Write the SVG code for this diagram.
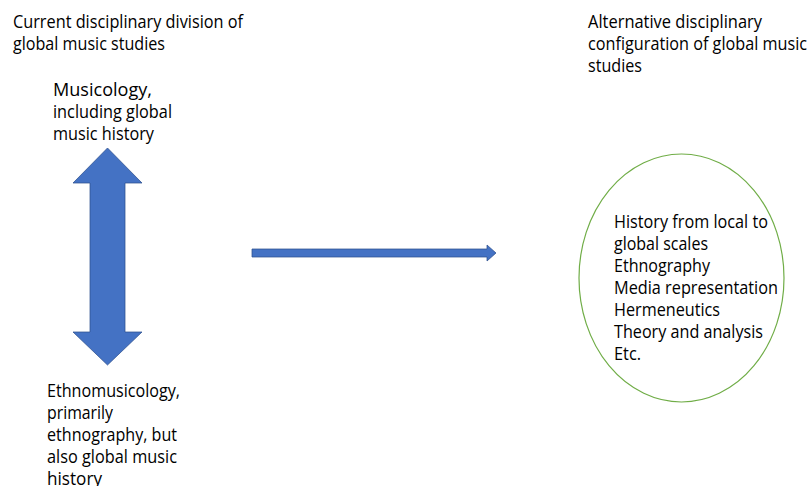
<svg xmlns="http://www.w3.org/2000/svg" width="809" height="486" viewBox="0 0 809 486">
<style>
text { font-family: "Open Sans", "Liberation Sans", sans-serif; font-size: 18px; fill: #000000; }
.arrow { fill: #4472C4; stroke: #2F528F; stroke-width: 0.75; }
.oval { fill: #FFFFFF; stroke: #70AD47; stroke-width: 1.2; }
</style>
<rect width="809" height="486" fill="#FFFFFF"/>
<g id="connectors">
  <polygon class="arrow" points="107.5,148 142,183 125,183 125,332 142,332 107.5,365 73,332 90,332 90,183 73,183"/>
  <polygon class="arrow" points="252,249 487,249 487,245 496,253 487,261 487,257 252,257"/>
</g>
<g id="title-left">
  <text x="13" y="28" textLength="230" lengthAdjust="spacingAndGlyphs">Current disciplinary division of</text>
  <text x="13" y="50" textLength="152" lengthAdjust="spacingAndGlyphs">global music studies</text>
</g>
<g id="musicology">
  <text x="53" y="96" textLength="99" lengthAdjust="spacingAndGlyphs">Musicology,</text>
  <text x="53" y="118" textLength="119" lengthAdjust="spacingAndGlyphs">including global</text>
  <text x="53" y="140" textLength="101" lengthAdjust="spacingAndGlyphs">music history</text>
</g>
<g id="ethnomusicology">
  <text x="47" y="397" textLength="133" lengthAdjust="spacingAndGlyphs">Ethnomusicology,</text>
  <text x="47" y="419" textLength="66" lengthAdjust="spacingAndGlyphs">primarily</text>
  <text x="47" y="441" textLength="130" lengthAdjust="spacingAndGlyphs">ethnography, but</text>
  <text x="47" y="463" textLength="130" lengthAdjust="spacingAndGlyphs">also global music</text>
  <text x="47" y="485" textLength="55" lengthAdjust="spacingAndGlyphs">history</text>
</g>
<g id="title-right">
  <text x="588" y="28" textLength="174" lengthAdjust="spacingAndGlyphs">Alternative disciplinary</text>
  <text x="588" y="50" textLength="219" lengthAdjust="spacingAndGlyphs">configuration of global music</text>
  <text x="588" y="72" textLength="54" lengthAdjust="spacingAndGlyphs">studies</text>
</g>
<g id="alternative">
  <ellipse class="oval" cx="681.5" cy="278" rx="102.5" ry="124"/>
  <text x="614" y="228" textLength="154" lengthAdjust="spacingAndGlyphs">History from local to</text>
  <text x="614" y="250" textLength="94" lengthAdjust="spacingAndGlyphs">global scales</text>
  <text x="614" y="272" textLength="96" lengthAdjust="spacingAndGlyphs">Ethnography</text>
  <text x="614" y="294" textLength="164" lengthAdjust="spacingAndGlyphs">Media representation</text>
  <text x="614" y="316" textLength="106" lengthAdjust="spacingAndGlyphs">Hermeneutics</text>
  <text x="614" y="338" textLength="149" lengthAdjust="spacingAndGlyphs">Theory and analysis</text>
  <text x="614" y="360" textLength="27" lengthAdjust="spacingAndGlyphs">Etc.</text>
</g>
</svg>
